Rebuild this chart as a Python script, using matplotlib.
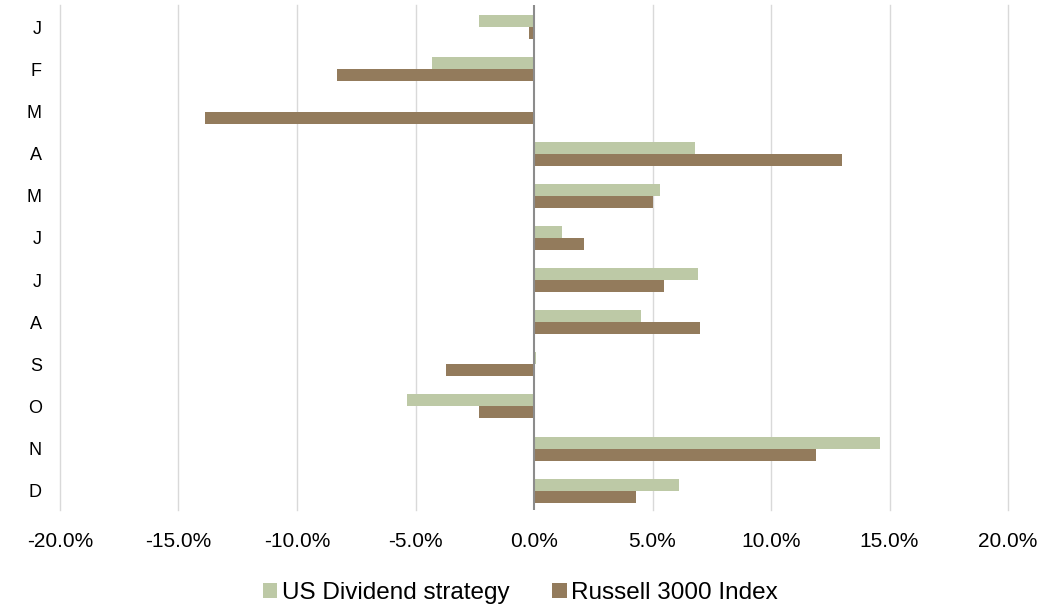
import numpy as np
import matplotlib.pyplot as plt
from matplotlib.ticker import FuncFormatter

plt.rcParams['font.family'] = ['Liberation Sans', 'DejaVu Sans']

months = ["J", "F", "M", "A", "M", "J", "J", "A", "S", "O", "N", "D"]
dividend = [-2.3, -4.3, 0.0, 6.8, 5.3, 1.2, 6.9, 4.5, 0.1, -5.35, 14.6, 6.1]
russell = [-0.2, -8.3, -13.9, 13.0, 5.0, 2.1, 5.5, 7.0, -3.7, -2.3, 11.9, 4.3]

green = "#bdc9a6"
brown = "#937b5c"

fig = plt.figure(figsize=(10.41, 6.13), dpi=100)
ax = fig.add_axes([60 / 1041, 1 - 510 / 613, 948 / 1041, 505 / 613])

y = np.arange(len(months))
h = 0.285
ax.barh(y - h / 2, dividend, height=h, color=green, label="US Dividend strategy", zorder=2)
ax.barh(y + h / 2, russell, height=h, color=brown, label="Russell 3000 Index", zorder=2)

ax.set_xlim(-20, 20)
ax.set_ylim(11.46, -0.53)
ax.set_xticks(np.arange(-20, 21, 5))
ax.xaxis.set_major_formatter(FuncFormatter(lambda v, p: f"{v:.1f}%"))
ax.set_yticks(y)
ax.set_yticklabels(months)
for v in np.arange(-20, 21, 5):
    if v != 0:
        ax.axvline(v, color="#d9d9d9", linewidth=1, zorder=0, clip_on=False)
ax.axvline(0, color="#8c8c8c", linewidth=1.5, zorder=3)
for s in ax.spines.values():
    s.set_visible(False)
ax.tick_params(axis="both", length=0, colors="#000000")
ax.tick_params(axis="x", pad=16, labelsize=15)
ax.tick_params(axis="y", pad=13, labelsize=13)

fig.legend(loc="center", bbox_to_anchor=(0.5, 1 - 593 / 613), ncol=2, frameon=False,
           fontsize=17.5, handlelength=0.58, handleheight=0.58, handletextpad=0.2,
           columnspacing=1.77)

fig.savefig("out.png", dpi=100)
